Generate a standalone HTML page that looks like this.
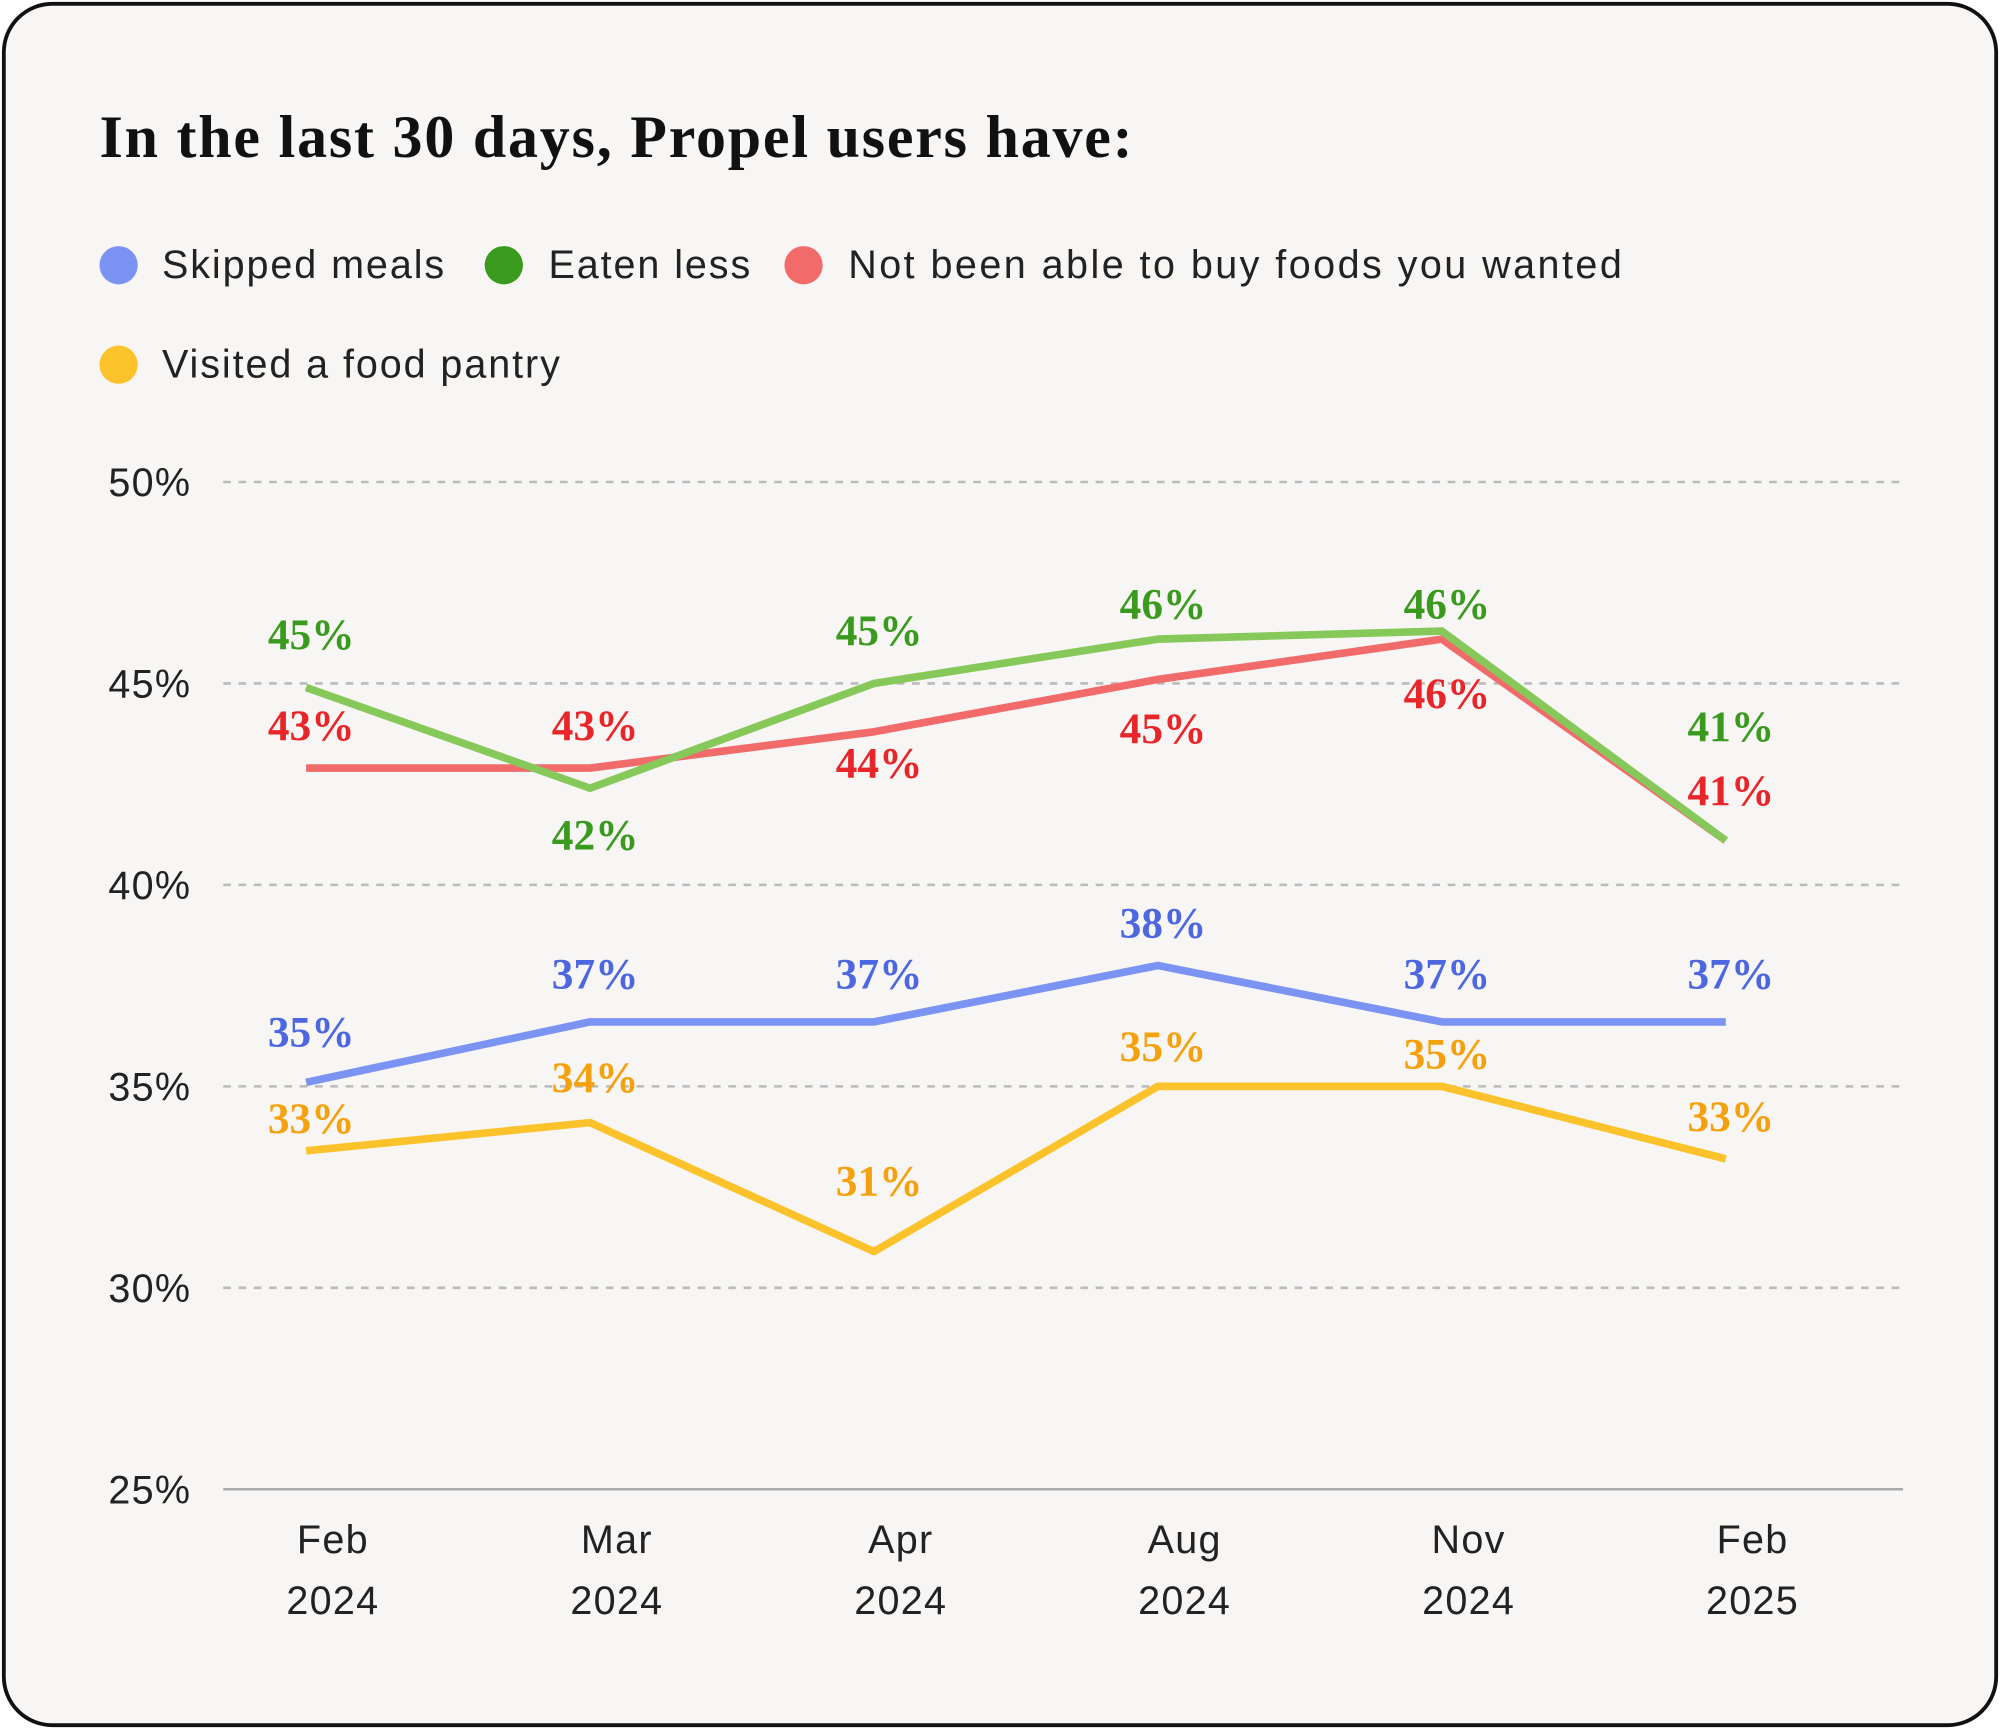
<!DOCTYPE html>
<html><head><meta charset="utf-8"><style>
html,body{margin:0;padding:0;background:#fff;}
svg{display:block;}
.ax{font-family:"Liberation Sans",sans-serif;font-size:31px;fill:#222;letter-spacing:1px;}
.lg{font-family:"Liberation Sans",sans-serif;font-size:31px;fill:#222;letter-spacing:1.5px;}
.vl{font-family:"Liberation Serif",serif;font-size:34px;font-weight:bold;}
</style></head><body>
<svg width="2000" height="1729" viewBox="0 0 1568 1356" preserveAspectRatio="none">
<rect x="3" y="3" width="1562" height="1350" rx="38" fill="#f7f6f4" stroke="#111" stroke-width="3"/>
<text x="78" y="123" font-family="Liberation Serif,serif" font-weight="bold" font-size="47" fill="#111" textLength="810">In the last 30 days, Propel users have:</text>
<g>
<g><circle cx="93" cy="208" r="15" fill="#7b93f2"/><text class="lg" x="127" y="218">Skipped meals</text></g>
<g><circle cx="395" cy="208" r="15" fill="#3a9a1e"/><text class="lg" x="430" y="218">Eaten less</text></g>
<g><circle cx="630" cy="208" r="15" fill="#f26b6b"/><text class="lg" x="665" y="218" textLength="608">Not been able to buy foods you wanted</text></g>
<g><circle cx="93" cy="286" r="15" fill="#fbc22c"/><text class="lg" x="127" y="296">Visited a food pantry</text></g>
</g>
<g id="plot"></g>
</svg>
<script>
const categories=["Feb|2024","Mar|2024","Apr|2024","Aug|2024","Nov|2024","Feb|2025"];
const yTicks=[25,30,35,40,45,50];
const eatenLess=[44.9,42.4,45.0,46.1,46.3,41.1];
const cantBuy=[42.9,42.9,43.8,45.1,46.1,41.1];
const skipped=[35.1,36.6,36.6,38.0,36.6,36.6];
const pantry=[33.4,34.1,30.9,35.0,35.0,33.2];
const eatenLabels=["45%","42%","45%","46%","46%","41%"];
const cantBuyLabels=["43%","43%","44%","45%","46%","41%"];
const skippedLabels=["35%","37%","37%","38%","37%","37%"];
const pantryLabels=["33%","34%","31%","35%","35%","33%"];
const NS="http://www.w3.org/2000/svg";
const g=document.getElementById("plot");
const x=i=>240+i*(1353-240)/(categories.length-1);
const y=v=>378+(50-v)*(1168-378)/25;
function mk(t,a,p){const e=document.createElementNS(NS,t);for(const k in a)e.setAttribute(k,a[k]);(p||g).appendChild(e);return e;}
yTicks.forEach(t=>{
 const ln=mk("line",{x1:175,x2:1492,y1:y(t),y2:y(t),stroke:t===25?"#aaa":"#bbb","stroke-width":2,"stroke-dasharray":t===25?"none":"6,6"});
 
 
 const tx=mk("text",{x:85,y:y(t)+11,class:"ax"});tx.textContent=t+"%";
 
 
});
categories.forEach((c,i)=>{
 const [m,yr]=c.split("|");
 const t=mk("text",{x:x(i)+21,y:1218,class:"ax","text-anchor":"middle"});
 const a=mk("tspan",{x:x(i)+21},t);a.textContent=m;
 const b=mk("tspan",{x:x(i)+21,dy:48},t);b.textContent=yr;
 
 
});
const series=[
 {name:"cant-buy",vals:cantBuy,labs:cantBuyLabels,line:"#f26b6b",lab:"#e8262a",off:[-22,-22,36,50,54,-28]},
 {name:"eaten-less",vals:eatenLess,labs:eatenLabels,line:"#86c95a",lab:"#3a9a1e",off:[-30,48,-30,-16,-10,-78]},
 {name:"skipped-meals",vals:skipped,labs:skippedLabels,line:"#7b93f2",lab:"#4c67e0",off:[-28,-26,-26,-22,-26,-26]},
 {name:"food-pantry",vals:pantry,labs:pantryLabels,line:"#fbc22c",lab:"#f5a10e",off:[-14,-24,-44,-20,-14,-22]}
];
series.forEach(s=>{
 const pts=s.vals.map((v,i)=>x(i)+","+y(v)).join(" ");
 const pl=mk("polyline",{points:pts,fill:"none",stroke:s.line,"stroke-width":6,"stroke-linejoin":"round"});
 
 
});
series.forEach(s=>{
 s.vals.forEach((v,i)=>{
  const t=mk("text",{x:x(i)+4,y:y(v)+s.off[i],class:"vl",fill:s.lab,"text-anchor":"middle"});
  t.textContent=s.labs[i];
  
  
 });
});
</script>
</body></html>
